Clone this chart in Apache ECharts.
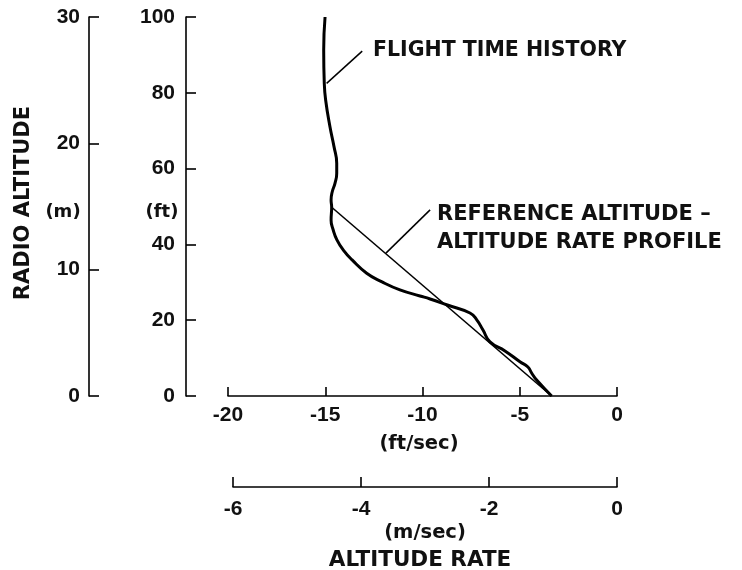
<!DOCTYPE html>
<html><head><meta charset="utf-8">
<script src="https://cdn.jsdelivr.net/npm/echarts@6/dist/echarts.min.js"></script>
<style>html,body{margin:0;padding:0;background:#fff}#c{width:742px;height:570px}</style>
</head><body><div id="c"></div>
<script>
// Flight time history: altitude rate (ft/sec) and radio altitude (ft)
const flightRate = [-15.01,-15.08,-15.05,-14.98,-14.76,-14.55,-14.41,-14.41,-14.50,-14.64,-14.70,-14.67,-14.70,-14.59,-14.40,-14.07,-13.62,-12.87,-12.08,-11.16,-10.13,-9.61,-8.72,-7.56,-7.21,-6.89,-6.53,-5.76,-4.99,-4.58,-4.39,-4.13,-3.36];
const flightAlt  = [100,91.3,82.5,78.1,71.1,65.8,61.4,58.8,56.1,53.9,51.7,49.8,46.4,43.8,41.2,38.5,35.9,32.4,30.1,28.0,26.4,25.6,24.0,21.9,20.1,17.4,14.3,11.9,9.05,7.65,6.07,4.2,0];
// Reference altitude - altitude rate profile
const refRate = [-14.67,-3.36];
const refAlt  = [49.8,0];
// Leader lines of the annotations (ft/sec, ft)
const leaderFlightRate = [-13.10,-14.93];
const leaderFlightAlt  = [91.0,82.5];
const leaderRefRate = [-9.61,-11.88];
const leaderRefAlt  = [49.1,37.7];
// Axis tick values
const ftTicks = [0,20,40,60,80,100];
const mTicks = [0,10,20,30];
const rateFtTicks = [-20,-15,-10,-5,0];
const rateMTicks = [-6,-4,-2,0];

const pairs = (xs, ys) => xs.map((x, i) => [x, ys[i]]);
const INK = '#111';
const axisStyle = {color: '#000', width: 1.6};
const labelStyle = {fontFamily: 'Liberation Sans', fontWeight: 'bold', fontSize: 21, color: INK};
const txt = (text, x, y, size, align, rot) => ({
  type: 'text', x: x, y: y, rotation: rot || 0,
  style: {text: text, font: 'bold ' + size + 'px "DejaVu Sans"', fill: INK, align: align || 'center', verticalAlign: 'middle'}
});

const chart = echarts.init(document.getElementById('c'), null, {renderer: 'canvas'});
chart.setOption({
  animation: false,
  backgroundColor: '#fff',
  grid: [
    {left: 228, right: 125, top: 17, bottom: 174},
    {left: 233, right: 125, top: 477, height: 10}
  ],
  xAxis: [
    {gridIndex: 0, type: 'value', position: 'bottom',
     min: rateFtTicks[0], max: rateFtTicks[rateFtTicks.length-1], interval: rateFtTicks[1]-rateFtTicks[0],
     axisLine: {onZero: false, lineStyle: axisStyle},
     axisTick: {inside: true, length: 9, lineStyle: axisStyle},
     axisLabel: Object.assign({margin: 9}, labelStyle),
     splitLine: {show: false}},
    {gridIndex: 1, type: 'value', position: 'bottom',
     min: rateMTicks[0], max: rateMTicks[rateMTicks.length-1], interval: rateMTicks[1]-rateMTicks[0],
     axisLine: {onZero: false, lineStyle: axisStyle},
     axisTick: {inside: true, length: 10, lineStyle: axisStyle},
     axisLabel: Object.assign({margin: 12}, labelStyle),
     splitLine: {show: false}}
  ],
  yAxis: [
    {gridIndex: 0, type: 'value', position: 'left', offset: 42,
     min: ftTicks[0], max: ftTicks[ftTicks.length-1], interval: ftTicks[1]-ftTicks[0],
     axisLine: {show: true, onZero: false, lineStyle: axisStyle},
     axisTick: {show: true, inside: true, length: 10, lineStyle: axisStyle},
     axisLabel: Object.assign({margin: 11}, labelStyle),
     splitLine: {show: false}},
    {gridIndex: 0, type: 'value', position: 'left', offset: 139,
     min: mTicks[0], max: mTicks[mTicks.length-1], interval: mTicks[1]-mTicks[0],
     axisLine: {show: true, onZero: false, lineStyle: axisStyle},
     axisTick: {show: true, inside: true, length: 10, lineStyle: axisStyle},
     axisLabel: Object.assign({margin: 9}, labelStyle),
     splitLine: {show: false}},
    {gridIndex: 1, type: 'value', show: false, min: 0, max: 1}
  ],
  series: [
    {type: 'line', xAxisIndex: 0, yAxisIndex: 0, data: pairs(flightRate, flightAlt),
     showSymbol: false, smooth: 0.5, lineStyle: {color: '#000', width: 3}, z: 3},
    {type: 'line', xAxisIndex: 0, yAxisIndex: 0, data: pairs(refRate, refAlt),
     showSymbol: false, lineStyle: {color: '#000', width: 1.6}, z: 2},
    {type: 'line', xAxisIndex: 0, yAxisIndex: 0, data: pairs(leaderFlightRate, leaderFlightAlt),
     showSymbol: false, lineStyle: {color: '#000', width: 1.5}},
    {type: 'line', xAxisIndex: 0, yAxisIndex: 0, data: pairs(leaderRefRate, leaderRefAlt),
     showSymbol: false, lineStyle: {color: '#000', width: 1.5}}
  ],
  graphic: [
    txt('RADIO ALTITUDE', 24, 203, 21, 'center', Math.PI/2),
    txt('(m)', 63, 212, 18),
    txt('(ft)', 162, 212, 18),
    txt('(ft/sec)', 419, 444, 19.5),
    txt('(m/sec)', 425, 533, 19.5),
    txt('ALTITUDE RATE', 420, 560, 21.5),
    txt('FLIGHT TIME HISTORY', 373, 51, 20.5, 'left'),
    txt('REFERENCE ALTITUDE –', 437, 214.5, 21, 'left'),
    txt('ALTITUDE RATE PROFILE', 437, 242.5, 21, 'left')
  ]
});
</script></body></html>
